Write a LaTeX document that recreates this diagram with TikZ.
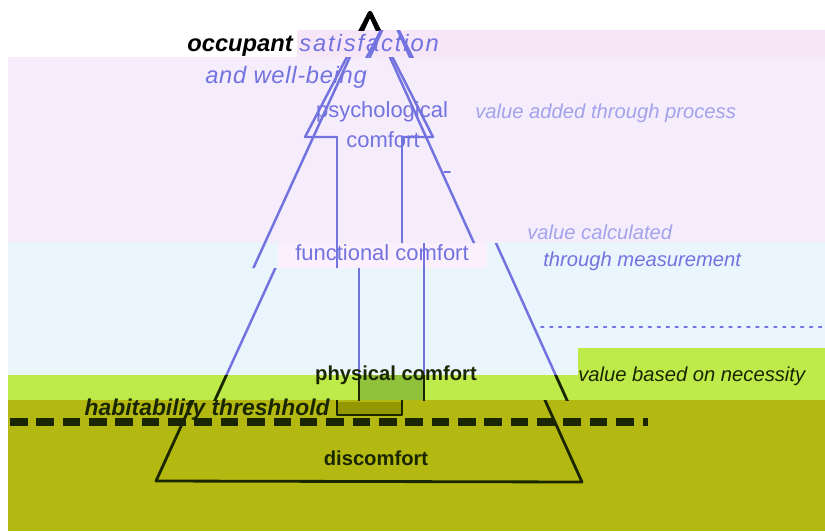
\documentclass[tikz,border=0pt]{standalone}
\usepackage{fontspec}
\setmainfont{Liberation Sans}
\definecolor{bandpink}{HTML}{F7E6F8}
\definecolor{bandlav}{HTML}{F5ECFC}
\definecolor{bandpale}{HTML}{FBF0FC}
\definecolor{bandblue}{HTML}{EAF5FD}
\definecolor{bandlime}{HTML}{BFEB4A}
\definecolor{bandolive}{HTML}{B4B912}
\definecolor{shaftlime}{HTML}{8FC23A}
\definecolor{shaftolive}{HTML}{949800}
\definecolor{linkblue}{HTML}{7373DF}
\definecolor{paleblue}{HTML}{A3A3EC}
\definecolor{darkline}{HTML}{1A2600}
% pyramid, arrow head and shaft (pixel units)
\newcommand{\pyramidlines}{%
  \draw (370,13) -- (156,481) -- (582,482) -- cycle;
  \draw (337,137) -- (305,137) -- (370,13) -- (433,137) -- (402,137);
  \draw (337,137) -- (337,415) -- (402,415) -- (402,137);
}
\begin{document}
\begin{tikzpicture}[
        x=0.02cm, y=-0.02cm,
        line cap=round,
        line join=round,
        every node/.style={inner sep=0pt},
        lvl/.style={font=\fontsize{12.5}{15}\selectfont, text=linkblue},
        lvlbold/.style={font=\fontsize{11.5}{14}\selectfont\bfseries, text=darkline},
        valtxt/.style={font=\fontsize{11.5}{14}\selectfont\itshape, anchor=west}
    ]
        \useasboundingbox (0,0) rectangle (825,531);
        % Colour bands
        \fill[white] (0,0) rectangle (825,531);
        \fill[bandpink] (297,30) rectangle (825,57);
        \fill[bandlav] (8,57) rectangle (825,243);
        \fill[bandblue] (8,243) rectangle (825,375);
        \fill[bandpale] (278,243) rectangle (487,268);
        \fill[bandlime] (578,348) rectangle (825,375);
        \fill[bandlime] (8,375) rectangle (825,400);
        \fill[bandolive] (8,400) rectangle (825,531);
        \fill[shaftlime] (359,375) rectangle (424,400);
        \fill[shaftolive] (337,402) rectangle (402,415);
        % Lines, band by band
        \begin{scope}
            \clip (0,0) rectangle (825,30);
            \begin{scope}[black, line width=2.4pt] \pyramidlines \end{scope}
        \end{scope}
        \begin{scope}[xshift=0.4cm]
            \clip (-20,30) rectangle (805,57);
            \begin{scope}[linkblue, line width=1.4pt] \pyramidlines \end{scope}
        \end{scope}
        \begin{scope}
            \clip (0,57) -- (825,57) -- (825,243) -- (380,243) -- (380,268) -- (0,268) -- cycle;
            \begin{scope}[linkblue, line width=1.4pt] \pyramidlines \end{scope}
        \end{scope}
        \begin{scope}[xshift=0.44cm]
            \clip (-22,268) -- (358,268) -- (358,243) -- (803,243) -- (803,375) -- (-22,375) -- cycle;
            \begin{scope}[linkblue, line width=1.4pt] \pyramidlines \end{scope}
        \end{scope}
        \begin{scope}[xshift=0.44cm]
            \clip (-22,375) rectangle (803,400);
            \begin{scope}[darkline, line width=1.6pt] \pyramidlines \end{scope}
        \end{scope}
        \begin{scope}
            \clip (0,400) rectangle (825,531);
            \begin{scope}[darkline, line width=1.6pt] \pyramidlines \end{scope}
        \end{scope}
        % Level separators
        \draw[linkblue, line width=1pt] (444,172) -- (450,172);
        \draw[linkblue, line width=1pt, dash pattern=on 1.5pt off 3.6pt] (541,327) -- (825,327);
        \draw[darkline, line width=4.5pt, dash pattern=on 10pt off 5pt, line cap=butt] (10,422) -- (648,422);
        % Labels
        \node[anchor=west, font=\fontsize{13.5}{16}\selectfont\itshape] (occ) at (187,45)
            {\textbf{occupant} \textcolor{linkblue}{\addfontfeatures{LetterSpace=8}satisfaction}};
        \node[anchor=west, font=\fontsize{13.5}{16}\selectfont\itshape, text=linkblue] (wellbeing) at (205,77)
            {\addfontfeatures{LetterSpace=3}and well-being};
        \node[lvl] (psych) at (382,112) {psychological};
        \node[lvl] (psychb) at (383,140) {comfort};
        \node[lvl] (func) at (382,253) {functional comfort};
        \node[lvlbold] (phys) at (396,375) {physical comfort};
        \node[lvlbold] (discomf) at (376,458) {discomfort};
        \node[anchor=east, font=\fontsize{13}{16}\selectfont\bfseries\itshape, text=darkline] (thresh) at (330,410)
            {habitability threshhold};
        % Value annotations
        \node[valtxt, text=paleblue] (valproc) at (475,113) {value added through process};
        \node[valtxt, text=paleblue] (valcalc) at (527,232) {value calculated};
        \node[valtxt, text=linkblue] (valmeas) at (543,261) {through measurement};
        \node[valtxt, text=darkline] (valnec) at (578,376) {value based on necessity};
\end{tikzpicture}
\end{document}
